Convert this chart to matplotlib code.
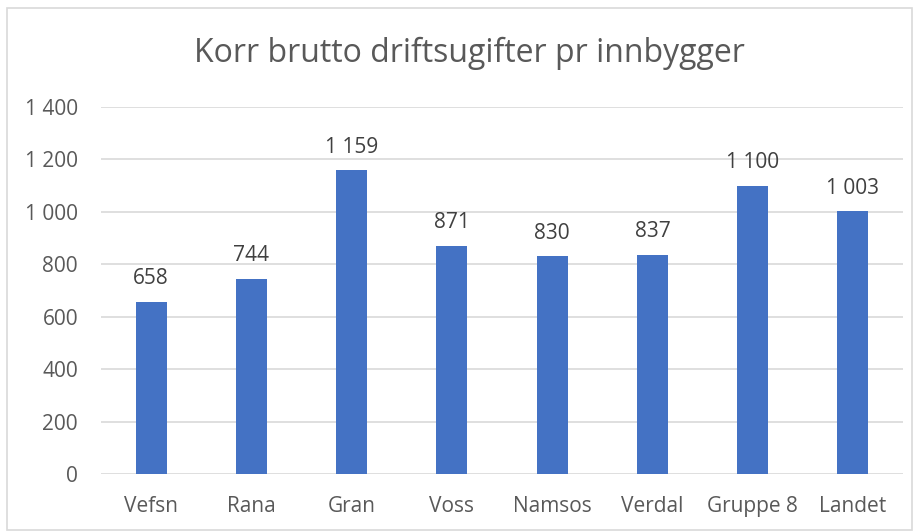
import matplotlib.pyplot as plt
from matplotlib.patches import Rectangle
from matplotlib.ticker import FuncFormatter

categories = ['Vefsn', 'Rana', 'Gran', 'Voss', 'Namsos', 'Verdal', 'Gruppe 8', 'Landet']
values = [658, 744, 1159, 871, 830, 837, 1100, 1003]
yticks = [0, 200, 400, 600, 800, 1000, 1200, 1400]


def fmt(v, pos=None):
    return f'{int(v):,}'.replace(',', ' ')


plt.rcParams['font.family'] = ['Open Sans', 'DejaVu Sans']
text_col = '#595959'
grid_col = '#D9D9D9'
bar_col = '#4472C4'

fig = plt.figure(figsize=(9.17, 5.32), dpi=100)
ax = fig.add_axes([101/917, 1 - 474/532, 802/917, 367/532])

x = range(len(categories))
ax.bar(x, values, width=0.31, color=bar_col, zorder=3)
for xi, v in zip(x, values):
    ax.annotate(fmt(v), (xi, v), xytext=(0, 9), textcoords='offset points',
                ha='center', va='bottom', fontsize=15, color='#404040')

ax.set_xlim(-0.5, len(categories) - 0.5)
ax.set_ylim(0, 1400)
ax.set_yticks(yticks)
ax.yaxis.set_major_formatter(FuncFormatter(fmt))
ax.set_xticks(list(x))
ax.set_xticklabels(categories)
ax.grid(axis='y', color=grid_col, linewidth=1.2, zorder=0)
for s in ax.spines.values():
    s.set_visible(False)
ax.tick_params(length=0, labelsize=15, colors=text_col)
ax.tick_params(axis='y', pad=16.5)
ax.tick_params(axis='x', pad=15.5)

fig.text(469/917, 1 - 53/532, 'Korr brutto driftsugifter pr innbygger',
         ha='center', va='center', fontsize=23, color=text_col)

fig.patches.append(Rectangle((7/917, 1 - 530/532), 905/917, 522/532,
                             transform=fig.transFigure, fill=False,
                             edgecolor=grid_col, linewidth=1.2))

fig.savefig('out.png', dpi=100)
